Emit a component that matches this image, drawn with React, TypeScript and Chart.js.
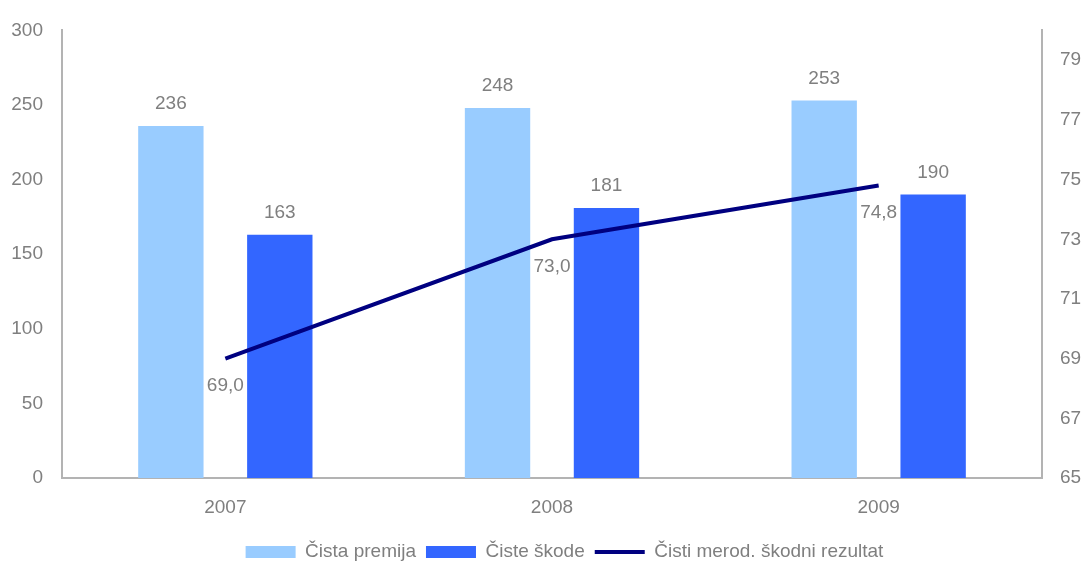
import React, { useEffect, useRef } from "react";
import { Chart, registerables } from "chart.js";

Chart.register(...registerables);

const categories = ["2007", "2008", "2009"];
const cistaPremija = [236, 248, 253];
const cisteSkode = [163, 181, 190];
const skodniRezultat = [69.0, 73.0, 74.8];
const leftTicks = [0, 50, 100, 150, 200, 250, 300];
const rightTicks = [65, 67, 69, 71, 73, 75, 77, 79];
const seriesNames = ["Čista premija", "Čiste škode", "Čisti merod. škodni rezultat"];

const FONT = "'Liberation Sans', Arial, sans-serif";
const GRAY = "#7f7f7f";
const AXIS = "#b3b3b3";
const FS = 19;

const labelPlugin = {
  id: "valueLabels",
  afterDatasetsDraw(chart: any) {
    const ctx = chart.ctx;
    ctx.save();
    ctx.font = `${FS}px ${FONT}`;
    ctx.fillStyle = GRAY;
    ctx.textAlign = "center";
    ctx.textBaseline = "middle";
    chart.data.datasets.forEach((ds: any, di: number) => {
      const meta = chart.getDatasetMeta(di);
      meta.data.forEach((el: any, i: number) => {
        const v = ds.data[i];
        if (ds.type === "line") {
          ctx.fillText(v.toFixed(1).replace(".", ","), el.x, el.y + 27);
        } else {
          ctx.fillText(String(v), el.x, el.y - 22);
        }
      });
    });
    ctx.restore();
  },
};

const legendShiftPlugin = {
  id: "legendShift",
  afterLayout(chart: any) {
    const lg = chart.legend;
    if (lg) {
      lg.left += 22;
      lg.right += 22;
    }
  },
};

export default function App() {
  const ref = useRef<HTMLCanvasElement | null>(null);
  useEffect(() => {
    if (!ref.current) return;
    const chart = new Chart(ref.current, {
      type: "bar",
      data: {
        labels: categories,
        datasets: [
          {
            type: "bar",
            label: seriesNames[0],
            data: cistaPremija,
            backgroundColor: "#99ccff",
            borderWidth: 0,
            yAxisID: "y",
            order: 1,
            categoryPercentage: 0.667,
            barPercentage: 0.6,
          },
          {
            type: "bar",
            label: seriesNames[1],
            data: cisteSkode,
            backgroundColor: "#3366ff",
            borderWidth: 0,
            yAxisID: "y",
            order: 1,
            categoryPercentage: 0.667,
            barPercentage: 0.6,
          },
          {
            type: "line",
            label: seriesNames[2],
            data: skodniRezultat,
            borderColor: "#000080",
            backgroundColor: "#000080",
            borderWidth: 4,
            pointRadius: 0,
            tension: 0,
            yAxisID: "y1",
            order: 0,
          } as any,
        ],
      },
      options: {
        animation: false,
        responsive: true,
        maintainAspectRatio: false,
        layout: { padding: { top: 27, bottom: -10.5, left: 0, right: 0 } },
        plugins: {
          tooltip: { enabled: false },
          legend: {
            position: "bottom",
            labels: {
              usePointStyle: true,
              pointStyleWidth: 50,
              boxHeight: 12,
              padding: 10,
              color: GRAY,
              font: { family: FONT, size: FS },
              sort: (a: any, b: any) => a.datasetIndex - b.datasetIndex,
              generateLabels: (ch: any) =>
                ch.data.datasets.map((ds: any, i: number) => ({
                  text: ds.label,
                  fillStyle: ds.type === "line" ? ds.borderColor : ds.backgroundColor,
                  strokeStyle: ds.type === "line" ? ds.borderColor : ds.backgroundColor,
                  lineWidth: ds.type === "line" ? 4 : 0,
                  pointStyle: ds.type === "line" ? "line" : "rect",
                  fontColor: GRAY,
                  hidden: false,
                  datasetIndex: i,
                })),
            },
          },
        },
        scales: {
          x: {
            grid: { display: false, drawTicks: false },
            border: { display: true, color: AXIS, width: 2 },
            ticks: { color: GRAY, font: { family: FONT, size: FS }, padding: 18 },
            afterFit: (s: any) => {
              s.height = 54.5;
            },
          },
          y: {
            position: "left",
            min: 0,
            max: 300,
            grid: { display: false, drawTicks: false },
            border: { display: true, color: AXIS, width: 2 },
            ticks: { color: GRAY, font: { family: FONT, size: FS }, padding: 19 },
            afterBuildTicks: (s: any) => {
              s.ticks = leftTicks.map((v) => ({ value: v }));
            },
            afterFit: (s: any) => {
              s.width = 62;
            },
          },
          y1: {
            position: "right",
            min: 65,
            max: 80,
            grid: { display: false, drawTicks: false },
            border: { display: true, color: AXIS, width: 2 },
            ticks: { color: GRAY, font: { family: FONT, size: FS }, padding: 18 },
            afterBuildTicks: (s: any) => {
              s.ticks = rightTicks.map((v) => ({ value: v }));
            },
            afterFit: (s: any) => {
              s.width = 43;
            },
          },
        },
      },
      plugins: [labelPlugin, legendShiftPlugin],
    });
    return () => chart.destroy();
  }, []);
  return (
    <div style={{ position: "fixed", left: 0, top: 0, width: 1085, height: 561, background: "#fff" }}>
      <canvas ref={ref} />
    </div>
  );
}
